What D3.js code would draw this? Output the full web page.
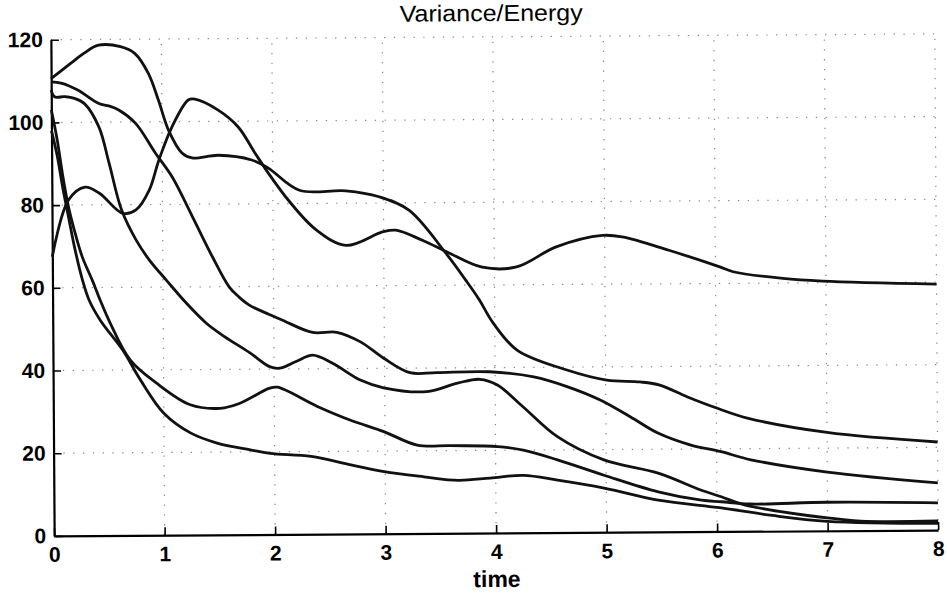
<!DOCTYPE html>
<meta charset="utf-8">
<script src="https://d3js.org/d3.v7.min.js"></script>
<style>
  body { margin: 0; background: #fff; }
  text { font-family: "Liberation Sans", Arial, Helvetica, sans-serif; }
</style>
<div id="chart"></div>
<script>

// each run: times and values
var timeA = [0, 0.18, 0.3, 0.43, 0.63, 0.76, 0.88, 0.97, 1.06, 1.18, 1.27, 1.51, 1.81, 1.96, 2.24, 2.66, 2.96, 3.23, 3.56, 3.74, 3.86, 3.98, 4.2, 4.65, 5.01, 5.31, 5.49, 5.74, 6.01, 6.28, 7, 8];
var runA  = [110.6, 114.3, 116.7, 118.6, 118.2, 116.5, 111.7, 105.2, 97.9, 92.4, 91.2, 91.8, 90.6, 88.6, 83.2, 83, 81.5, 78.2, 67.8, 61.2, 56.5, 51, 44.2, 39.3, 36.8, 36.3, 35.5, 32.6, 29.8, 27.4, 23.8, 21.3];

var timeB = [0, 0.15, 0.3, 0.43, 0.64, 0.76, 0.88, 0.97, 1.09, 1.24, 1.3, 1.51, 1.69, 1.84, 1.96, 2.14, 2.39, 2.66, 2.99, 3.11, 3.35, 3.59, 3.89, 4.2, 4.56, 4.98, 5.16, 5.58, 6.04, 6.16, 6.61, 6.97, 8];
var runB  = [67.5, 81.2, 84.3, 82.8, 77.9, 78.7, 83.4, 90.7, 98.7, 105.2, 105.4, 102.7, 98.6, 92.3, 87.4, 80.8, 73.6, 69.8, 73, 73.4, 70.9, 67.8, 64.3, 64.3, 69.1, 71.8, 71.4, 68.1, 64, 62.8, 61.1, 60.4, 59.5];

var timeC = [0, 0.09, 0.24, 0.43, 0.52, 0.61, 0.76, 0.94, 1.09, 1.27, 1.45, 1.6, 1.69, 1.78, 1.96, 2.08, 2.35, 2.57, 2.78, 2.99, 3.23, 3.47, 3.95, 4.35, 4.65, 4.95, 5.22, 5.47, 5.76, 6.04, 6.31, 7, 8];
var runC  = [109.8, 109.5, 107.8, 104.5, 103.9, 102.9, 99.7, 92.4, 86.6, 77, 67.2, 59.9, 57.4, 55.5, 53.2, 51.8, 48.8, 48.8, 46.5, 42.5, 38.9, 38.9, 39, 37.7, 35.3, 32, 27.9, 23.9, 21, 19.3, 17.3, 14.2, 11.4];

var timeD = [0, 0.03, 0.12, 0.21, 0.3, 0.43, 0.52, 0.63, 0.76, 0.88, 1.03, 1.21, 1.39, 1.55, 1.78, 1.96, 2.05, 2.2, 2.35, 2.53, 2.78, 2.99, 3.38, 3.66, 3.86, 4.02, 4.25, 4.56, 4.98, 5.47, 5.86, 6.04, 6.25, 7, 7.3, 8];
var runD  = [107.8, 106.2, 106.2, 105.8, 104.5, 98.8, 90, 78.7, 71.4, 66.5, 61.7, 56.1, 51.2, 48, 44, 40.6, 40.2, 41.8, 43.3, 41.3, 37.2, 35.3, 34.3, 36.3, 37.2, 35.8, 30.5, 23.2, 17.5, 14.2, 10, 8.4, 6.4, 3.1, 2.3, 2.2];

var timeE = [0, 0.05, 0.1, 0.15, 0.2, 0.27, 0.36, 0.43, 0.52, 0.7, 0.94, 1.24, 1.51, 1.69, 1.96, 2.03, 2.39, 2.69, 2.99, 3.29, 3.59, 4.02, 4.25, 4.56, 4.98, 5.47, 5.86, 6.04, 6.3, 7, 8];
var runE  = [103, 96, 87, 79.5, 74, 67.5, 61.8, 57, 51.4, 42.4, 36.7, 31.5, 30.6, 31.8, 35.4, 35.6, 30.9, 27.5, 24.7, 21.4, 21.2, 20.9, 20, 17.6, 13.8, 9.7, 7.6, 7.2, 6.6, 6.9, 6.6];

var timeF = [0, 0.05, 0.1, 0.15, 0.2, 0.27, 0.33, 0.43, 0.63, 0.79, 1, 1.24, 1.48, 1.78, 1.96, 2.33, 2.69, 2.99, 3.35, 3.66, 3.95, 4.25, 4.56, 4.98, 5.47, 6.04, 6.5, 7, 8];
var runF  = [98, 92, 84, 77, 70, 62, 57, 52.1, 44.9, 37.6, 29.5, 24.7, 22.2, 20.5, 19.6, 18.8, 16.7, 15, 13.7, 12.8, 13.3, 13.9, 12.7, 10.7, 7.7, 5.7, 3.8, 2.3, 1.6];

var xTicks = [0, 1, 2, 3, 4, 5, 6, 7, 8];
var yTicks = [0, 20, 40, 60, 80, 100, 120];

var title = "Variance/Energy";
var xLabel = "time";

var runs = [[timeA, runA], [timeB, runB], [timeC, runC], [timeD, runD], [timeE, runE], [timeF, runF]];

var W = 947, H = 596;

var svg = d3.select("#chart")
  .append("svg")
    .attr("width", W)
    .attr("height", H);

// the scan is a little bit tilted
var g = svg.append("g")
  .attr("transform", "rotate(-0.38,495,285)");

var x = d3.scaleLinear().domain([0, 8]).range([52.5, 936.5]);
var y = d3.scaleLinear().domain([0, 120]).range([533, 36.8]);

// dotted grid
g.append("g").selectAll("line")
  .data(xTicks.slice(1))
  .join("line")
    .attr("x1", function(d) { return x(d); })
    .attr("x2", function(d) { return x(d); })
    .attr("y1", y(0))
    .attr("y2", y(120))
    .attr("stroke", "#888")
    .attr("stroke-width", 1.2)
    .attr("stroke-dasharray", "1.3,8.5");

g.append("g").selectAll("line")
  .data(yTicks.slice(1))
  .join("line")
    .attr("x1", x(0))
    .attr("x2", x(8))
    .attr("y1", function(d) { return y(d); })
    .attr("y2", function(d) { return y(d); })
    .attr("stroke", "#888")
    .attr("stroke-width", 1.2)
    .attr("stroke-dasharray", "1.3,8.5");

// axes, ticks point inward
var xAxis = g.append("g")
  .attr("transform", "translate(0," + y(0) + ")")
  .call(d3.axisBottom(x).tickValues(xTicks).tickFormat(d3.format("d"))
    .tickSizeInner(-8).tickSizeOuter(0).tickPadding(11));

var yAxis = g.append("g")
  .attr("transform", "translate(" + x(0) + ",0)")
  .call(d3.axisLeft(y).tickValues(yTicks).tickFormat(d3.format("d"))
    .tickSizeInner(-8).tickSizeOuter(0).tickPadding(8));

[xAxis, yAxis].forEach(function(a) {
  a.select(".domain").attr("stroke", "#000").attr("stroke-width", 2.2);
  a.selectAll(".tick line").attr("stroke", "#000").attr("stroke-width", 1.6);
  a.selectAll(".tick text")
    .attr("fill", "#000")
    .style("font-size", "21px")
    .style("font-weight", "bold");
});

// curves
var line = d3.line()
  .x(function(d) { return x(d[0]); })
  .y(function(d) { return y(d[1]); })
  .curve(d3.curveCatmullRom.alpha(0.5));

runs.forEach(function(r) {
  var pts = r[0].map(function(t, i) { return [t, r[1][i]]; });
  g.append("path")
    .datum(pts)
    .attr("d", line)
    .attr("fill", "none")
    .attr("stroke", "#111")
    .attr("stroke-width", 2.8)
    .attr("stroke-linejoin", "round");
});

// title + label
g.append("text")
  .attr("x", 493)
  .attr("y", 21)
  .attr("text-anchor", "middle")
  .attr("textLength", 183)
  .attr("lengthAdjust", "spacingAndGlyphs")
  .style("font-size", "23px")
  .style("font-weight", "500")
  .text(title);

g.append("text")
  .attr("x", 495)
  .attr("y", 587)
  .attr("text-anchor", "middle")
  .style("font-size", "23px")
  .style("font-weight", "bold")
  .text(xLabel);

</script>
